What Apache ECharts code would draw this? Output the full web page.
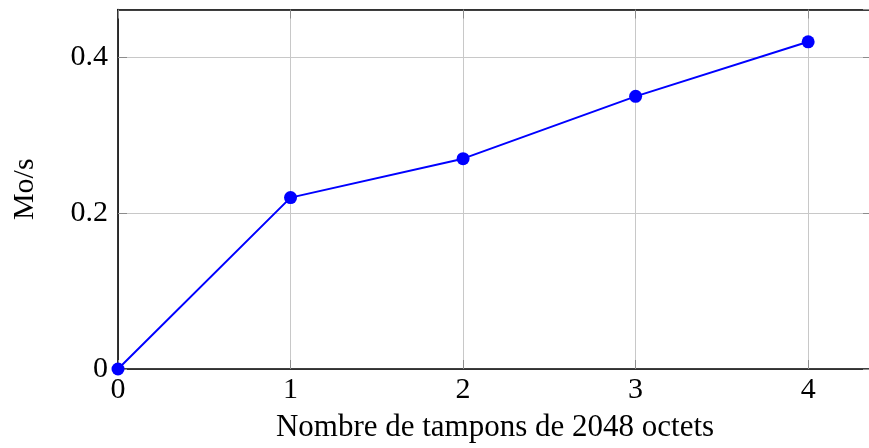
<!DOCTYPE html>
<html>
<head>
<meta charset="utf-8">
<script src="https://cdn.jsdelivr.net/npm/echarts@6/dist/echarts.min.js"></script>
<style>
  html, body { margin: 0; padding: 0; background: #fff; overflow: hidden; }
  /* le cadre droit du graphique sort de la fenêtre, comme dans l'original */
  #chart { width: 880px; height: 448px; }
</style>
</head>
<body>
<div id="chart"></div>
<script>
// nombre de tampons de 2048 octets
const buffers = [0, 1, 2, 3, 4]
// débit mesuré (Mo/s)
const throughput = [0, 0.22, 0.27, 0.35, 0.42]

const xTicks = [0, 1, 2, 3, 4]
const yTicks = [0, 0.2, 0.4]

const font = '"Liberation Serif", "DejaVu Serif", serif'

const myChart = echarts.init(document.getElementById('chart'))

const tickStyle = { show: true, inside: true, length: 9, lineStyle: { color: '#8c8c8c', width: 1 } }
const frameLine = { show: true, onZero: false, lineStyle: { color: '#000', width: 1.6 } }

myChart.setOption({
    animation: false,
    grid: {
        left: 118,
        right: 8,
        top: 9.5,
        bottom: 76.5
    },
    xAxis: [{
        type: 'value',
        min: 0,
        max: 4.37,
        interval: 1,
        name: 'Nombre de tampons de 2048 octets',
        nameLocation: 'middle',
        nameGap: 43,
        nameTextStyle: { fontFamily: font, fontSize: 31, color: '#000' },
        axisLine: frameLine,
        axisTick: tickStyle,
        axisLabel: {
            showMaxLabel: false,
            margin: 6,
            fontFamily: font,
            fontSize: 30,
            color: '#000',
            formatter: v => xTicks.includes(v) ? String(v) : ''
        },
        splitLine: { show: true, lineStyle: { color: '#c8c8c8', width: 1 } },
        z: 2
    }, {
        type: 'value',
        position: 'top',
        min: 0,
        max: 4.37,
        interval: 1,
        axisLine: frameLine,
        axisTick: tickStyle,
        axisLabel: { show: false },
        splitLine: { show: false },
        z: 3
    }],
    yAxis: [{
        type: 'value',
        min: 0,
        max: 0.4615,
        interval: 0.2,
        name: 'Mo/s',
        nameLocation: 'middle',
        nameGap: 78,
        nameTextStyle: { fontFamily: font, fontSize: 30, color: '#000' },
        axisLine: frameLine,
        axisTick: tickStyle,
        axisLabel: {
            showMaxLabel: false,
            margin: 10,
            fontFamily: font,
            fontSize: 30,
            color: '#000',
            formatter: v => {
                const t = yTicks.find(k => Math.abs(k - v) < 1e-9)
                return t === undefined ? '' : String(t)
            }
        },
        splitLine: { show: true, lineStyle: { color: '#c8c8c8', width: 1 } },
        z: 2
    }, {
        type: 'value',
        position: 'right',
        min: 0,
        max: 0.4615,
        interval: 0.2,
        axisLine: { show: false, onZero: false },
        axisTick: tickStyle,
        axisLabel: { show: false },
        splitLine: { show: false },
        z: 3
    }],
    series: [{
        type: 'line',
        data: buffers.map((b, i) => [b, throughput[i]]),
        symbol: 'circle',
        symbolSize: 13,
        itemStyle: { color: '#0000ff' },
        lineStyle: { color: '#0000ff', width: 2 },
        clip: false,
        z: 5
    }]
})
</script>
</body>
</html>
